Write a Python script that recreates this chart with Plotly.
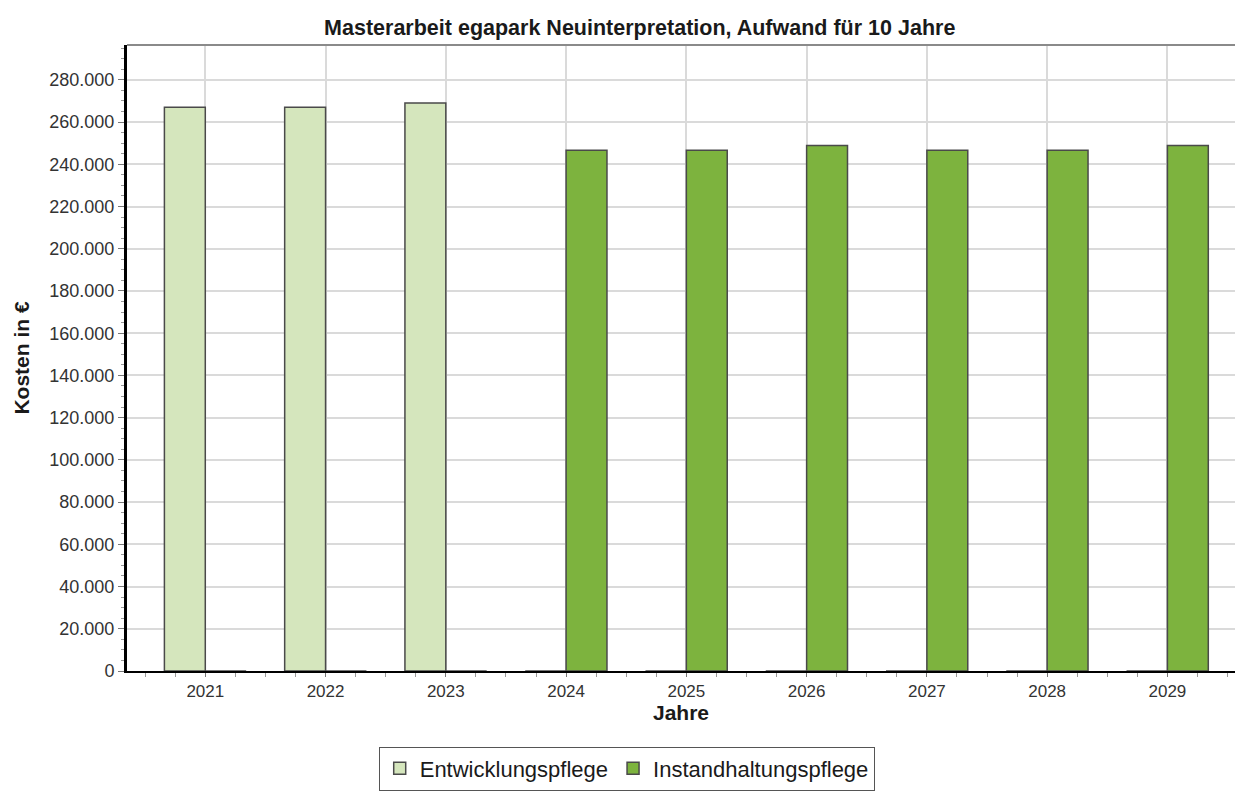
import plotly.graph_objects as go

# Jahre und Kosten (in €) je Pflegeart
jahre = [2021, 2022, 2023, 2024, 2025, 2026, 2027, 2028, 2029]
entwicklungspflege = [267000, 267000, 269000, 0, 0, 0, 0, 0, 0]
instandhaltungspflege = [0, 0, 0, 246700, 246700, 248900, 246700, 246700, 248900]
y_ticks = list(range(0, 280001, 20000))

FONT = "Liberation Sans, Arial, sans-serif"
OUTLINE = "#4a4a4a"

fig = go.Figure()
fig.add_trace(go.Bar(
    x=jahre, y=entwicklungspflege, name="Entwicklungspflege",
    marker=dict(color="#d5e6bd", line=dict(color=OUTLINE, width=1.5)),
))
fig.add_trace(go.Bar(
    x=jahre, y=instandhaltungspflege, name="Instandhaltungspflege",
    marker=dict(color="#7db33e", line=dict(color=OUTLINE, width=1.5)),
))

fig.update_layout(
    width=1235, height=793,
    margin=dict(l=127, r=0, t=45, b=122),
    paper_bgcolor="white", plot_bgcolor="white",
    separators=",.",
    barmode="group", bargap=0.32, bargroupgap=0,
    font=dict(family=FONT, color="#333333"),
    title=dict(
        text="<b>Masterarbeit egapark Neuinterpretation, Aufwand für 10 Jahre</b>",
        x=0.518, xanchor="center", y=0.965, yanchor="middle",
        font=dict(size=21.5, color="#1a1a1a", family=FONT),
    ),
    showlegend=True,
    legend=dict(
        orientation="h", x=0.451, xanchor="center", y=-0.191, yanchor="bottom",
        bordercolor="#555555", borderwidth=1, bgcolor="white",
        font=dict(size=22, color="#1a1a1a", family=FONT),
        traceorder="normal", itemwidth=30,
    ),
)

fig.update_xaxes(
    range=[2020.349, 2029.562],
    tickvals=jahre, ticktext=[str(j) for j in jahre],
    tickfont=dict(size=17, color="#333333"),
    showgrid=True, gridcolor="#dadada", gridwidth=1.5,
    showline=True, linecolor="black", linewidth=2,
    ticks="outside", ticklen=4, tickcolor="#777777",
    minor=dict(dtick=0.25, tick0=2021, ticks="outside", ticklen=4,
               tickcolor="#999999", showgrid=False),
    title=dict(text="<b>Jahre</b>", font=dict(size=21, color="#1a1a1a"), standoff=5),
    zeroline=False,
)

fig.update_yaxes(
    range=[0, 296500],
    tickvals=y_ticks, tickformat=",d",
    tickfont=dict(size=18, color="#333333"),
    showgrid=True, gridcolor="#dadada", gridwidth=1.5,
    showline=True, linecolor="black", linewidth=3,
    ticks="outside", ticklen=6, tickcolor="#777777",
    minor=dict(dtick=5000, tick0=0, ticks="outside", ticklen=3,
               tickcolor="#999999", showgrid=False),
    title=dict(text="<b>Kosten in €</b>", font=dict(size=21, color="#1a1a1a"), standoff=14),
    zeroline=False,
)

# obere Rahmenlinie des Diagrammbereichs
fig.add_shape(type="line", xref="paper", yref="paper", x0=0, x1=1, y0=1, y1=1,
              line=dict(color="#8a8a8a", width=2))

fig.write_html("out.html")
